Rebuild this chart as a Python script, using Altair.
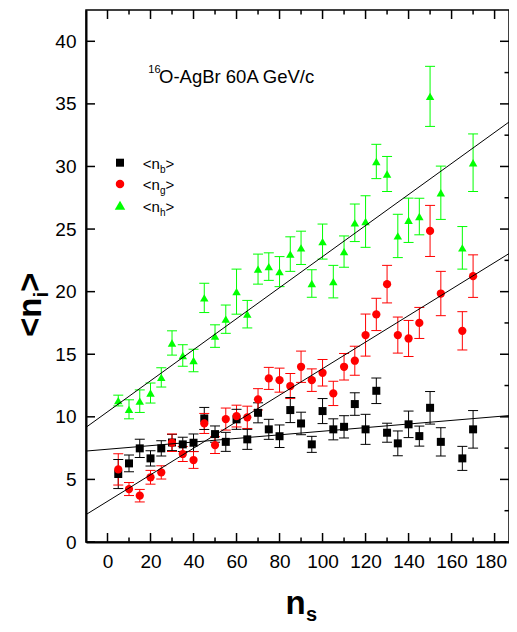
import altair as alt
import pandas as pd

# ---------------- data ----------------
ns = [5, 10, 15, 20, 25, 30, 35, 40, 45, 50, 55, 60, 65, 70, 75, 80, 85, 90, 95,
      100, 105, 110, 115, 120, 125, 130, 135, 140, 145, 150, 155, 165, 170]

nb = [5.43, 6.28, 7.48, 6.68, 7.48, 7.95, 7.80, 7.93, 9.87, 8.62, 8.00, 9.80, 8.20,
      10.32, 9.00, 8.45, 10.54, 9.47, 7.80, 10.46, 9.00, 9.20, 11.02, 9.00, 12.08,
      8.73, 7.88, 9.40, 8.46, 10.72, 8.00, 6.68, 9.00]
nb_err = [1.16, 0.67, 0.73, 0.61, 0.61, 0.65, 0.57, 0.70, 0.88, 0.65, 0.76, 0.80, 0.80,
          0.80, 0.80, 0.90, 1.00, 0.90, 0.64, 1.00, 0.84, 0.89, 0.90, 1.20, 1.02,
          0.76, 0.99, 1.06, 0.80, 1.30, 1.13, 0.96, 1.50]

ng = [5.80, 4.23, 3.70, 5.17, 5.56, 7.93, 7.03, 6.55, 9.47, 7.74, 9.82, 10.06, 9.96,
      11.40, 13.07, 12.93, 12.46, 14.00, 12.93, 13.52, 11.87, 14.00, 14.48, 16.53,
      18.18, 20.60, 16.53, 16.26, 17.50, 24.85, 19.85, 16.87, 21.24]
ng_err = [1.25, 0.52, 0.50, 0.55, 0.53, 0.70, 0.60, 0.67, 0.80, 0.67, 0.88, 0.87, 0.89,
          0.85, 0.88, 0.96, 1.00, 1.25, 0.90, 1.06, 0.97, 1.06, 1.16, 1.68,
          1.29, 1.50, 1.44, 1.44, 1.24, 2.04, 1.77, 1.53, 1.70]

nh = [11.30, 10.60, 11.25, 11.90, 13.15, 15.90, 14.90, 14.50, 19.50, 16.45, 17.80,
      20.00, 18.20, 21.80, 22.00, 21.60, 23.00, 23.50, 20.65, 24.00, 20.80, 23.20,
      25.50, 25.60, 30.40, 29.40, 24.45, 25.70, 26.00, 35.60, 27.90, 23.50, 30.30]
nh_err = [0.43, 0.76, 0.90, 0.80, 0.77, 0.97, 0.86, 0.90, 1.17, 0.90, 1.13,
          1.80, 1.10, 1.20, 1.10, 1.20, 1.38, 1.33, 1.10, 1.40, 1.30, 1.25,
          1.50, 2.06, 1.37, 1.40, 1.73, 1.77, 1.46, 2.40, 2.13, 1.70, 2.30]

series_keys = ["b", "g", "h"]
series_colors = ["#000000", "#ff0000", "#00ff00"]
series_shapes = ["square", "circle", "triangle-up"]
series_sizes = [64, 72, 110]

# linear fits (intercept, slope) for <n_b>, <n_g>, <n_h>
fit_intercept = [7.41, 3.25, 10.40]
fit_slope = [0.0144, 0.106, 0.124]

x_domain = [-10, 186.7]
y_domain = [0, 42.5]
x_major = [0, 20, 40, 60, 80, 100, 120, 140, 160, 180]
x_minor = [10, 30, 50, 70, 90, 110, 130, 150, 170]
y_major = [0, 5, 10, 15, 20, 25, 30, 35, 40]
y_minor = [2.5, 7.5, 12.5, 17.5, 22.5, 27.5, 32.5, 37.5]

# ---------------- tables ----------------
rows = []
for key, vals, errs in zip(series_keys, [nb, ng, nh], [nb_err, ng_err, nh_err]):
    for x, y, e in zip(ns, vals, errs):
        rows.append({"s": key, "ns": x, "v": y, "lo": y - e, "hi": y + e})
df = pd.DataFrame(rows)

line_rows = []
for key, a, b in zip(series_keys, fit_intercept, fit_slope):
    for x in x_domain:
        line_rows.append({"s": key, "ns": x, "v": a + b * x})
line_df = pd.DataFrame(line_rows)

W, H = 423, 532
FONT = "Liberation Sans"

xs = alt.Scale(domain=x_domain, nice=False, zero=False)
ys = alt.Scale(domain=y_domain, nice=False, zero=False)
x_axis = alt.Axis(values=x_major, ticks=False, grid=False, domainColor="black",
                  domainWidth=2, labelFont=FONT, labelFontSize=19, labelColor="black",
                  labelPadding=10, labelFlush=False, labelOverlap=False,
                  labelOffset={"condition": {"test": "datum.value == 180", "value": -4},
                               "value": 0})
y_axis = alt.Axis(values=y_major, ticks=False, grid=False, domainColor="black",
                  domainWidth=2, labelFont=FONT, labelFontSize=19, labelColor="black",
                  labelPadding=10, labelOverlap=False)


def X(field):
    return alt.X(f"{field}:Q", scale=xs, axis=x_axis, title=None)


def Y(field):
    return alt.Y(f"{field}:Q", scale=ys, axis=y_axis, title=None)


color = alt.Color("s:N", scale=alt.Scale(domain=series_keys, range=series_colors), legend=None)
shape = alt.Shape("s:N", scale=alt.Scale(domain=series_keys, range=series_shapes), legend=None)
size = alt.Size("s:N", scale=alt.Scale(domain=series_keys, range=series_sizes), legend=None)

err = alt.Chart(df).mark_rule(strokeWidth=1).encode(x=X("ns"), y=Y("lo"), y2="hi:Q", color=color)
cap_lo = alt.Chart(df).mark_point(shape="stroke", filled=False, size=100, strokeWidth=1,
                                  opacity=1).encode(x=X("ns"), y=Y("lo"), color=color)
cap_hi = alt.Chart(df).mark_point(shape="stroke", filled=False, size=100, strokeWidth=1,
                                  opacity=1).encode(x=X("ns"), y=Y("hi"), color=color)
pts = alt.Chart(df).mark_point(filled=True, opacity=1, strokeWidth=0).encode(
    x=X("ns"), y=Y("v"), color=color, shape=shape, size=size)
fits = alt.Chart(line_df).mark_line(color="black", strokeWidth=1, clip=True).encode(
    x=X("ns"), y=Y("v"), detail="s:N")

# inward tick marks
xmaj = pd.DataFrame({"t": x_major})
xmin = pd.DataFrame({"t": x_minor})
ymaj = pd.DataFrame({"t": y_major})
ymin = pd.DataFrame({"t": y_minor})
tk = dict(color="black", strokeWidth=1.5)
ticks = [
    alt.Chart(xmaj).mark_rule(**tk).encode(x=X("t"), y=alt.value(H), y2=alt.value(H - 9)),
    alt.Chart(xmaj).mark_rule(**tk).encode(x=X("t"), y=alt.value(0), y2=alt.value(9)),
    alt.Chart(xmin).mark_rule(**tk).encode(x=X("t"), y=alt.value(H), y2=alt.value(H - 4.5)),
    alt.Chart(xmin).mark_rule(**tk).encode(x=X("t"), y=alt.value(0), y2=alt.value(4.5)),
    alt.Chart(ymaj).mark_rule(**tk).encode(y=Y("t"), x=alt.value(0), x2=alt.value(9)),
    alt.Chart(ymaj).mark_rule(**tk).encode(y=Y("t"), x=alt.value(W), x2=alt.value(W - 9)),
    alt.Chart(ymin).mark_rule(**tk).encode(y=Y("t"), x=alt.value(W), x2=alt.value(W - 4.5)),
]

one = pd.DataFrame({"k": [0]})


def txt(text, x, y, size, weight="normal", angle=0, align="left"):
    return alt.Chart(one).mark_text(text=text, font=FONT, fontSize=size, fontWeight=weight,
                                    angle=angle, align=align, baseline="alphabetic",
                                    color="black").encode(x=alt.value(x), y=alt.value(y))


texts = [
    # x title n_s
    txt("n", 199.5, 604, 33, "bold"),
    txt("s", 220, 611, 20, "bold"),
    # y title <n_i>
    txt("<n", -45, 327, 33, "bold", angle=270),
    txt("i", -38, 287.6, 20, "bold", angle=270),
    txt(">", -45, 282, 33, "bold", angle=270),
    # annotation
    txt("16", 62.3, 63, 11),
    txt("O-AgBr 60A GeV/c", 73, 73.3, 18.5),
]

legend_labels = ["b", "g", "h"]
legend_items = []
for i, (key, col, shp, sz, lab) in enumerate(zip(series_keys, series_colors, series_shapes,
                                                 series_sizes, legend_labels)):
    dy = 21.3 * i
    legend_items.append(
        alt.Chart(one).mark_point(filled=True, opacity=1, strokeWidth=0, shape=shp, size=sz,
                                  color=col).encode(x=alt.value(34), y=alt.value(152.7 + dy)))
    legend_items.append(txt("<n", 56.7, 159 + dy, 15))
    legend_items.append(txt(lab, 74, 163 + dy, 10))
    legend_items.append(txt(">", 79.6, 159 + dy, 15))

chart = alt.layer(err, cap_lo, cap_hi, pts, fits, *ticks, *texts, *legend_items).properties(
    width=W, height=H,
    autosize=alt.AutoSizeParams(type="none"),
    padding={"left": 78, "top": 2, "right": 0, "bottom": 82},
    background="white",
).configure_view(stroke="black", strokeWidth=1.5)

chart.save("out.html", embed_options={"renderer": "svg", "actions": False})
